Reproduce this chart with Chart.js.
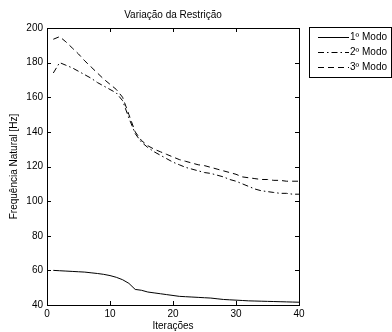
<!DOCTYPE html>
<html><head><meta charset="utf-8">
<script src="https://cdn.jsdelivr.net/npm/chart.js@4/dist/chart.umd.min.js"></script>
<style>html,body{margin:0;padding:0;background:#fff}</style>
</head><body>
<canvas id="c" width="392" height="332"></canvas>
<script>
const iterations = [1,2,3,4,5,6,7,8,9,10,11,12,13,14,15,16,17,18,19,20,21,22,23,24,25,26,27,28,29,30,31,32,33,34,35,36,37,38,39,40];
const modo1 = [60,59.8,59.6,59.4,59.2,59,58.6,58.2,57.7,57,56,54.6,52.5,49,48.5,47.5,47,46.5,46,45.5,45,44.8,44.6,44.4,44.2,44,43.6,43.2,43,42.8,42.6,42.4,42.3,42.2,42.1,42,41.9,41.8,41.7,41.6];
const modo2 = [174,180,178.5,177,175,173,171,168.5,166.5,164.5,162.5,158,148,139,134,131,128.5,126.5,124.5,122.5,121,119.5,118.5,117.5,116.5,116,115,114,112.5,111.5,110,108.5,107,106,105.5,105,104.5,104.5,104,104];
const modo3 = [193.5,195,192,188.5,185,181,177.5,174,170.5,167.5,164.5,160,150,140,135,132,130,128.5,127,125.5,124,123,122,121,120.5,119.5,118.5,117.5,116.5,115.5,114,113.5,113,112.5,112.5,112,112,111.5,111.5,111.5];
const seriesLabels = ['1º Modo','2º Modo','3º Modo'];
const xTickValues = [0,10,20,30,40];
const yTickValues = [40,60,80,100,120,140,160,180,200];
const chartTitle = 'Variação da Restrição';
const xTitle = 'Iterações';
const yTitle = 'Frequência Natural [Hz]';

const FONT = "'Liberation Sans', Arial, sans-serif";
Chart.defaults.font.family = FONT;
Chart.defaults.font.size = 10;
Chart.defaults.color = '#000';

const pts = arr => iterations.map((x,i)=>({x:x,y:arr[i]}));
const dashes = [[], [6,3,1.5,3], [6,4]];

const boxPlugin = {
  id: 'boxTicks',
  afterDatasetsDraw(chart){
    const {ctx, chartArea:a, scales:{x,y}} = chart;
    ctx.save();
    ctx.strokeStyle = '#000'; ctx.lineWidth = 1; ctx.setLineDash([]);
    ctx.strokeRect(a.left+0.5, a.top+0.5, a.right-a.left, a.bottom-a.top);
    const L = 4;
    ctx.beginPath();
    xTickValues.forEach(v=>{
      const px = Math.round(x.getPixelForValue(v))+0.5;
      ctx.moveTo(px, a.bottom); ctx.lineTo(px, a.bottom-L);
      ctx.moveTo(px, a.top); ctx.lineTo(px, a.top+L);
    });
    yTickValues.forEach(v=>{
      const py = Math.round(y.getPixelForValue(v))+0.5;
      ctx.moveTo(a.left, py); ctx.lineTo(a.left+L, py);
      ctx.moveTo(a.right, py); ctx.lineTo(a.right-L, py);
    });
    ctx.stroke();
    ctx.restore();
  }
};

const legendPlugin = {
  id: 'boxLegend',
  afterDraw(chart){
    const ctx = chart.ctx;
    const bx = 309.5, by = 27.5, bw = 82, bh = 50;
    ctx.save();
    ctx.fillStyle = '#fff';
    ctx.fillRect(bx, by, bw, bh);
    ctx.strokeStyle = '#000'; ctx.lineWidth = 1; ctx.setLineDash([]);
    ctx.strokeRect(bx, by, bw, bh);
    ctx.font = '10px ' + FONT;
    ctx.textBaseline = 'middle';
    ctx.textAlign = 'left';
    chart.data.datasets.forEach((ds,i)=>{
      const yy = 37.5 + i*15;
      ctx.beginPath();
      ctx.setLineDash(ds.borderDash || []);
      ctx.moveTo(318, yy); ctx.lineTo(349, yy);
      ctx.strokeStyle = ds.borderColor; ctx.lineWidth = 1;
      ctx.stroke();
      ctx.setLineDash([]);
      ctx.fillStyle = '#000';
      ctx.fillText(ds.label, 350, yy);
    });
    ctx.restore();
  }
};

new Chart(document.getElementById('c'), {
  type: 'line',
  data: {
    datasets: [modo1, modo2, modo3].map((arr,i)=>({
      label: seriesLabels[i],
      data: pts(arr),
      borderColor: '#000',
      borderWidth: 1,
      borderDash: dashes[i],
      pointRadius: 0,
      tension: 0,
      fill: false
    }))
  },
  options: {
    responsive: false,
    animation: false,
    devicePixelRatio: 1,
    layout: { padding: { left: 0, right: 93, top: 0, bottom: 0 } },
    plugins: {
      legend: { display: false },
      tooltip: { enabled: false },
      title: {
        display: true, text: chartTitle, fullSize: false,
        color: '#000', font: { size: 10, weight: 'normal', family: FONT },
        padding: { top: 9, bottom: 7 }
      }
    },
    scales: {
      x: {
        type: 'linear', min: 0, max: 40,
        afterBuildTicks: s => { s.ticks = xTickValues.map(v=>({value:v})); },
        ticks: { maxRotation: 0, padding: 3, color: '#000', font: { size: 10 } },
        grid: { display: false, drawTicks: false },
        border: { display: false },
        title: { display: true, text: xTitle, color: '#000', font: { size: 10 }, padding: { top: 0, bottom: 0 } },
        afterFit: s => { s.height = 27; }
      },
      y: {
        type: 'linear', min: 40, max: 200,
        afterBuildTicks: s => { s.ticks = yTickValues.map(v=>({value:v})); },
        ticks: { padding: 4, color: '#000', font: { size: 10 } },
        grid: { display: false, drawTicks: false },
        border: { display: false },
        title: { display: true, text: yTitle, color: '#000', font: { size: 10 }, padding: { top: 8, bottom: 0 } },
        afterFit: s => { s.width = 47; }
      }
    }
  },
  plugins: [boxPlugin, legendPlugin]
});
</script>
</body></html>
